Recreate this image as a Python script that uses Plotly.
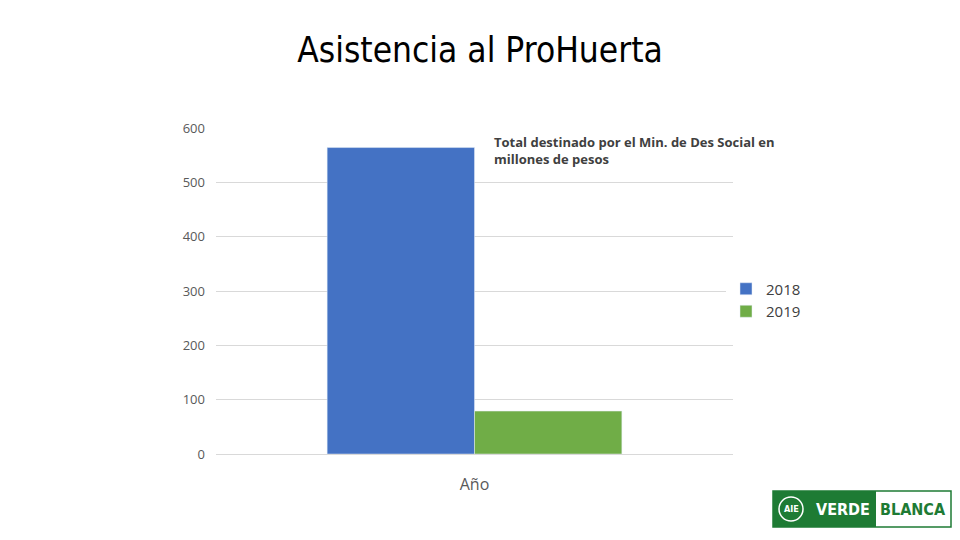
import plotly.graph_objects as go

# Data
categories = ['Año']
years = ['2018', '2019']
values = [564, 79]
colors = ['#4472C4', '#70AD47']

# page has an 8px body margin, so work in offset pixels
OFF = 8
L, T, W, H = 216 - OFF, 128 - OFF, 517, 326


def px(x):
    return (x - OFF - L) / W


def py(y):
    return (T + H - (y - OFF)) / H


fig = go.Figure()
for year, val, col in zip(years, values, colors):
    fig.add_trace(go.Bar(x=categories, y=[val], name=year, marker_color=col))

fig.update_layout(
    width=960, height=540,
    paper_bgcolor='white', plot_bgcolor='white',
    font=dict(family='Open Sans', color='#595959'),
    margin=dict(l=L, r=960 - L - W, t=T, b=540 - T - H),
    barmode='group', bargap=0.43, bargroupgap=0,
    title=dict(text='Asistencia al ProHuerta', x=(480 - OFF) / 960, xanchor='center',
               y=1 - (50 - OFF) / 540, yanchor='middle',
               font=dict(size=35, color='black', family='DejaVu Sans Condensed')),
    legend=dict(x=px(726), y=py(300), xanchor='left', yanchor='middle',
                font=dict(size=15, color='#404040'), tracegroupgap=0),
    showlegend=True,
)
fig.update_yaxes(range=[0, 600], dtick=100, gridcolor='#D9D9D9', zeroline=False,
                 showline=False, tickfont=dict(size=13), ticklabelstandoff=10)
fig.update_xaxes(showline=True, linecolor='#D9D9D9', tickfont=dict(size=16),
                 ticklabelstandoff=16)

fig.add_annotation(xref='paper', yref='paper', x=px(492), y=py(131), xanchor='left', yanchor='top',
                   text='<b>Total destinado por el Min. de Des Social en<br>millones de pesos</b>',
                   showarrow=False, align='left', font=dict(size=13, color='#404040'))

# Logo
fig.add_shape(type='rect', xref='paper', yref='paper', x0=px(773), x1=px(951),
              y0=py(527), y1=py(491), fillcolor='white', line=dict(color='#1E7B34', width=1.5))
fig.add_shape(type='rect', xref='paper', yref='paper', x0=px(773), x1=px(876),
              y0=py(527), y1=py(491), fillcolor='#1E7B34', line=dict(width=0))
fig.add_shape(type='circle', xref='paper', yref='paper', x0=px(779), x1=px(803),
              y0=py(521), y1=py(497), line=dict(color='white', width=1.5))
fig.add_annotation(xref='paper', yref='paper', x=px(791), y=py(509), xanchor='center', yanchor='middle',
                   text='<b>AIE</b>', showarrow=False,
                   font=dict(size=9, color='white', family='DejaVu Sans Condensed'))
fig.add_annotation(xref='paper', yref='paper', x=px(843), y=py(509), xanchor='center', yanchor='middle',
                   text='<b>VERDE</b>', showarrow=False,
                   font=dict(size=16, color='white', family='DejaVu Sans Condensed'))
fig.add_annotation(xref='paper', yref='paper', x=px(913), y=py(509), xanchor='center', yanchor='middle',
                   text='<b>BLANCA</b>', showarrow=False,
                   font=dict(size=16, color='#1E7B34', family='DejaVu Sans Condensed'))

fig.write_html('out.html')
